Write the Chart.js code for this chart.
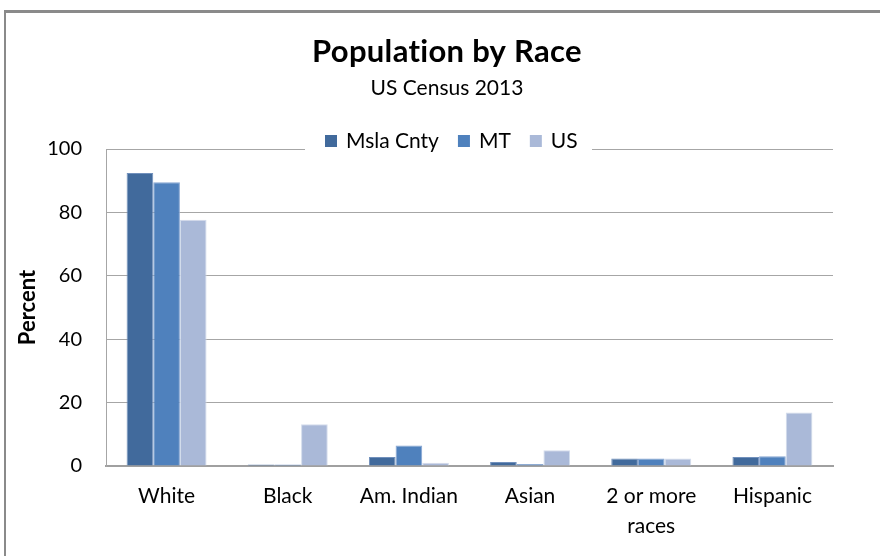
<!DOCTYPE html>
<html lang="en">
<head>
    <meta charset="UTF-8">
    <title>Population by Race</title>
    <style>
        body { margin: 0; background: #fff; overflow: hidden; }
        #frame {
            position: absolute; left: 4px; top: 10px; width: 900px; height: 600px;
            border-left: 2px solid #8a8a8a; border-top: 3px solid #8a8a8a;
        }
        #wrap { position: absolute; left: 0; top: 0; width: 880px; height: 556px; }
    </style>
</head>
<body>
    <div id="frame"></div>
    <div id="wrap"><canvas id="myChart" width="880" height="556"></canvas></div>
    <script src="https://cdn.jsdelivr.net/npm/chart.js@4.4.1/dist/chart.umd.min.js"></script>
    <script>

        // census 2013 shares, in percent
        const races = ['White', 'Black', 'Am. Indian', 'Asian', ['2 or more', 'races'], 'Hispanic'];
        const mslaCnty = [92.4, 0.5, 2.8, 1.3, 2.4, 2.8];
        const montana = [89.5, 0.5, 6.5, 0.6, 2.4, 3.1];
        const usTotal = [77.7, 13.2, 1.0, 5.0, 2.4, 16.9];
        const yTicks = [0, 20, 40, 60, 80, 100];

        const FONT = 'Lato, "Open Sans", sans-serif';

        // title, subtitle and the legend box that sits on the top gridline
        const header = {
            id: 'header',
            afterDraw(chart) {
                const ctx = chart.ctx;
                ctx.save();
                ctx.fillStyle = '#000';
                ctx.textAlign = 'center';
                ctx.textBaseline = 'middle';
                ctx.letterSpacing = '0.3px'; // keeps "ti" from joining into a ligature
                ctx.font = 'bold 31px ' + FONT;
                ctx.fillText('Population by Race', 447, 52);
                ctx.letterSpacing = '0px';
                ctx.font = '21px ' + FONT;
                ctx.fillText('US Census 2013', 447, 88);

                ctx.fillStyle = '#fff';
                ctx.fillRect(305, 127, 287, 28);

                ctx.font = '21px ' + FONT;
                ctx.textAlign = 'left';
                let x = 325;
                chart.data.datasets.forEach(ds => {
                    ctx.fillStyle = ds.backgroundColor;
                    ctx.fillRect(x, 135, 12, 12);
                    ctx.fillStyle = '#000';
                    ctx.fillText(ds.label, x + 21, 141);
                    x += 21 + ctx.measureText(ds.label).width + 19;
                });
                ctx.restore();
            }
        };

        const ctx = document.getElementById('myChart').getContext('2d');
        const myChart = new Chart(ctx, {
            type: 'bar',
            data: {
                labels: races,
                datasets: [
                    { label: 'Msla Cnty', data: mslaCnty, backgroundColor: '#416A9C', borderColor: '#7190BC', borderWidth: 1 },
                    { label: 'MT', data: montana, backgroundColor: '#4F81BD', borderColor: '#86A5D2', borderWidth: 1 },
                    { label: 'US', data: usTotal, backgroundColor: '#AAB9D8', borderColor: '#D3DCEC', borderWidth: 1 }
                ]
            },
            options: {
                responsive: false,
                animation: false,
                layout: { padding: { top: 149, left: 6, right: 47, bottom: 0 } },
                plugins: {
                    legend: { display: false },
                    title: { display: false },
                    tooltip: { enabled: false }
                },
                datasets: {
                    bar: { categoryPercentage: 0.66, barPercentage: 1.0 }
                },
                scales: {
                    x: {
                        grid: { display: false, drawTicks: false },
                        border: { display: true, color: '#a0a0a0', width: 2 },
                        ticks: {
                            color: '#000',
                            padding: 16,
                            maxRotation: 0,
                            autoSkip: false,
                            font: { family: FONT, size: 21, lineHeight: 1.4 }
                        },
                        afterFit(scale) { scale.height = 90; }
                    },
                    y: {
                        min: 0,
                        max: 100,
                        afterBuildTicks(scale) { scale.ticks = yTicks.map(v => ({ value: v })); },
                        grid: { color: '#a6a6a6', drawTicks: false },
                        border: { display: true, color: '#a6a6a6' },
                        ticks: {
                            color: '#000',
                            padding: 24,
                            font: { family: FONT, size: 20 }
                        },
                        title: {
                            display: true,
                            text: 'Percent',
                            color: '#000',
                            padding: { top: 9, bottom: 0 },
                            font: { family: FONT, size: 22, weight: 'bold' }
                        },
                        afterFit(scale) { scale.width = 100; }
                    }
                }
            },
            plugins: [header]
        });

    </script>
</body>
</html>
